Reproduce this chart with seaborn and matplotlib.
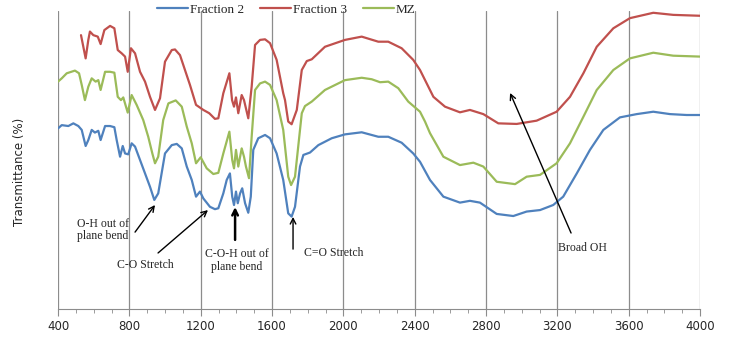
import pandas as pd
import matplotlib.pyplot as plt
import seaborn as sns
from matplotlib.ticker import MultipleLocator

# wavenumber (cm-1) / transmittance (%)
wn_f2 = [400, 421, 458, 486, 514, 533, 555, 570, 589, 607, 626, 639, 664, 692, 716, 729, 748, 763,
         776, 794, 813, 832, 860, 888, 916, 940, 962, 981, 1000, 1038, 1066, 1094, 1122, 1150, 1174,
         1196, 1215, 1252, 1280, 1299, 1327, 1346, 1364, 1377, 1387, 1398, 1408, 1421, 1433, 1449,
         1467, 1481, 1495, 1523, 1561, 1589, 1626, 1663, 1691, 1710, 1729, 1757, 1776, 1813, 1860,
         1935, 2009, 2103, 2196, 2252, 2327, 2392, 2430, 2486, 2561, 2654, 2710, 2766, 2860, 2953,
         3028, 3103, 3177, 3233, 3309, 3383, 3458, 3551, 3645, 3738, 3832, 3925, 4000]
t_f2 = [60.6, 61.7, 61.4, 62.3, 61.4, 60.1, 54.7, 56.7, 60.1, 59.2, 59.8, 56.7, 61.4, 61.4, 61.0, 56.7,
        51.1, 54.7, 52.2, 51.9, 55.6, 54.5, 50.0, 45.5, 41.0, 36.6, 38.8, 45.5, 52.2, 55.0, 55.4, 53.9,
        47.8, 43.3, 37.7, 39.4, 37.1, 34.3, 33.5, 33.8, 38.8, 43.3, 45.5, 37.7, 34.9, 39.4, 35.5, 38.8,
        40.5, 35.5, 32.3, 37.7, 53.4, 57.3, 58.4, 57.3, 52.2, 43.3, 32.1, 31.0, 34.3, 47.8, 51.7, 52.5,
        55.0, 57.3, 58.6, 59.3, 57.8, 57.8, 55.8, 52.2, 49.4, 43.3, 37.7, 35.7, 36.3, 35.7, 31.9, 31.2,
        32.7, 33.2, 34.9, 37.7, 45.5, 53.4, 60.1, 64.3, 65.4, 66.2, 65.4, 65.1, 65.1]

wn_f3 = [529, 542, 555, 570, 579, 598, 623, 639, 660, 692, 716, 735, 757, 776, 791, 809, 832, 860,
         888, 916, 944, 972, 1000, 1038, 1056, 1084, 1112, 1140, 1174, 1215, 1248, 1280, 1299, 1327,
         1361, 1376, 1387, 1398, 1411, 1430, 1443, 1467, 1486, 1505, 1533, 1561, 1589, 1626, 1663,
         1673, 1691, 1710, 1739, 1767, 1795, 1823, 1897, 2009, 2103, 2196, 2252, 2327, 2392, 2430,
         2505, 2570, 2654, 2710, 2785, 2869, 2972, 3084, 3196, 3271, 3346, 3421, 3514, 3607, 3738,
         3850, 4000]
t_f3 = [91.9, 88.0, 84.1, 90.3, 93.1, 91.9, 91.4, 88.9, 93.6, 95.0, 94.2, 86.9, 85.8, 84.7, 79.6, 87.5,
        85.8, 79.6, 76.3, 71.2, 66.8, 70.7, 83.0, 86.9, 87.1, 85.2, 80.2, 75.2, 68.5, 66.8, 65.7, 63.8,
        64.0, 72.4, 79.1, 70.1, 67.9, 71.0, 65.7, 71.8, 70.1, 64.0, 74.6, 88.6, 90.3, 90.5, 89.2, 83.6,
        72.4, 70.1, 62.9, 62.0, 66.8, 80.2, 83.2, 83.8, 88.0, 90.3, 91.4, 89.7, 89.7, 87.5, 83.6, 80.2,
        71.2, 67.9, 66.0, 66.8, 65.4, 62.3, 62.1, 63.2, 66.2, 71.2, 79.1, 88.0, 94.2, 97.6, 99.4, 98.7,
        98.4]

wn_mz = [400, 421, 449, 495, 518, 533, 551, 570, 589, 611, 626, 639, 664, 692, 716, 735, 753, 766,
         791, 813, 841, 878, 906, 929, 944, 962, 990, 1019, 1060, 1094, 1122, 1150, 1174, 1200, 1234,
         1271, 1299, 1327, 1361, 1377, 1387, 1398, 1411, 1430, 1443, 1454, 1471, 1486, 1505, 1533,
         1561, 1589, 1626, 1663, 1673, 1691, 1707, 1729, 1767, 1785, 1823, 1897, 2009, 2103, 2159,
         2206, 2252, 2308, 2364, 2430, 2458, 2486, 2561, 2654, 2729, 2785, 2860, 2963, 3028, 3103,
         3196, 3271, 3346, 3421, 3514, 3607, 3738, 3850, 4000]
t_mz = [76.3, 77.4, 79.1, 80.0, 79.1, 75.2, 70.1, 74.6, 77.4, 76.3, 76.8, 73.5, 79.6, 79.6, 79.3, 71.2,
        70.1, 71.0, 65.9, 71.8, 68.5, 63.4, 57.8, 52.2, 48.9, 51.1, 63.4, 69.0, 70.0, 67.9, 61.2, 55.6,
        48.9, 50.9, 47.2, 45.3, 45.7, 52.2, 59.5, 50.0, 47.2, 53.4, 47.8, 53.9, 51.1, 47.8, 43.9, 57.8,
        73.5, 75.7, 76.3, 75.2, 70.1, 60.1, 54.5, 44.4, 41.6, 44.4, 65.7, 68.1, 69.6, 73.5, 76.8, 77.6,
        77.1, 76.1, 76.3, 74.1, 69.6, 66.2, 62.9, 59.0, 51.1, 48.3, 49.1, 47.8, 42.7, 41.9, 44.4, 45.0,
        48.9, 55.6, 64.5, 73.5, 80.2, 84.1, 86.0, 85.0, 84.7]

series = ['Fraction 2', 'Fraction 3', 'MZ']
colors = {'Fraction 2': '#4F81BD', 'Fraction 3': '#C0504D', 'MZ': '#9BBB59'}

df = pd.concat([
    pd.DataFrame({'Wavenumber': wn_f2, 'Transmittance': t_f2, 'Sample': 'Fraction 2'}),
    pd.DataFrame({'Wavenumber': wn_f3, 'Transmittance': t_f3, 'Sample': 'Fraction 3'}),
    pd.DataFrame({'Wavenumber': wn_mz, 'Transmittance': t_mz, 'Sample': 'MZ'}),
])

sns.set_style('white')
plt.rcParams['font.family'] = ['DejaVu Sans']

fig = plt.figure(figsize=(7.29, 3.41), dpi=100)
ax = fig.add_axes([58 / 729, 32 / 341, 642 / 729, 298 / 341])
sns.lineplot(data=df, x='Wavenumber', y='Transmittance', hue='Sample', hue_order=series,
             palette=colors, estimator=None, sort=False, linewidth=1.6, ax=ax)

ax.set_xlim(400, 4000)
ax.set_ylim(0, 100)
ax.xaxis.set_major_locator(MultipleLocator(400))
ax.xaxis.set_minor_locator(MultipleLocator(100))
ax.grid(axis='x', which='major', color='#8c8c8c', linewidth=0.9)
ax.set_axisbelow(True)
ax.set_yticks([])
for s in ['top', 'right', 'left']:
    ax.spines[s].set_visible(False)
ax.spines['bottom'].set_color('#8c8c8c')
ax.tick_params(axis='x', which='major', direction='out', length=5, color='#8c8c8c',
               labelsize=8.5, pad=3, bottom=True)
ax.tick_params(axis='x', which='minor', direction='out', length=3, color='#8c8c8c', bottom=True)
ax.set_xlabel('')
ax.set_ylabel('')
fig.text(20 / 729, 1 - 172 / 341, 'Transmittance (%)', rotation=90, ha='center', va='center',
         fontsize=8.5)

ax.legend(loc='center', bbox_to_anchor=(286 / 729, 1 - 10 / 341), bbox_transform=fig.transFigure,
          ncol=3, frameon=False, handlelength=2.4, columnspacing=1.2, handletextpad=0.1,
          prop={'family': 'Liberation Serif', 'size': 9.5})

serif = {'family': 'Liberation Serif', 'size': 8.5}
notes = [
    ('O-H out of\nplane bend', 652, 26.5, 832, 25.8, 944, 34.9, 1.0),
    ('C-O Stretch', 888, 14.8, 961, 18.8, 1241, 33.2, 1.0),
    ('C-O-H out of\nplane bend', 1404, 16.4, 1393, 23.2, 1393, 34.2, 1.8),
    ('C=O Stretch', 1948, 18.8, 1718, 20.1, 1718, 30.9, 1.0),
    ('Broad OH', 3338, 20.5, 3277, 25.5, 2935, 72.5, 1.0),
]
for label, tx, ty, x0, y0, x1, y1, lw in notes:
    ax.text(tx, ty, label, ha='center', va='center', fontdict=serif, linespacing=1.1)
    ax.annotate('', xy=(x1, y1), xytext=(x0, y0),
                arrowprops=dict(arrowstyle='->', color='black', lw=lw, shrinkA=0, shrinkB=0))

plt.savefig('out.png', dpi=100)
